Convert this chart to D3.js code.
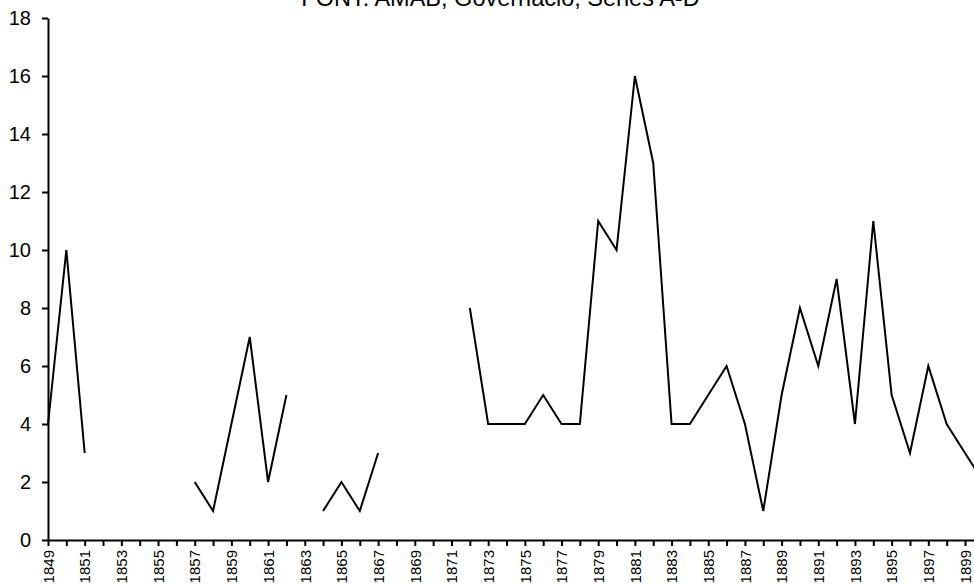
<!DOCTYPE html>
<html><head><meta charset="utf-8">
<script src="https://cdn.jsdelivr.net/npm/d3@7"></script>
<style>
html,body{margin:0;padding:0;background:#fff;overflow:hidden;}
svg{display:block;font-family:"Liberation Sans",Arial,sans-serif;}
</style></head>
<body><svg id="c" width="974" height="586"></svg>
<script>
const title = "FONT: AMAB, Governació, Sèries A-D";
const years = d3.range(1849, 1901);
const values = [4,10,3,null,null,null,null,null,2,1,4,7,2,5,null,1,2,1,3,null,null,null,null,8,4,4,4,5,4,4,11,10,16,13,4,4,5,6,4,1,5,8,6,9,4,11,5,3,6,4,3,2];
const yTicks = [0,2,4,6,8,10,12,14,16,18];
const xLabelYears = years.filter(y => (y - 1849) % 2 === 0);

const svg = d3.select("#c");
const x = d3.scaleLinear().domain([1849, 1900]).range([48, 48 + 51 * 18.34]);
const y = d3.scaleLinear().domain([0, 18]).range([540, 18]);

svg.append("text").attr("x", 500.5).attr("y", 6).attr("text-anchor", "middle")
  .attr("font-size", 23.5).attr("fill", "#000").text(title);

// y axis
const ya = svg.append("g").attr("transform", "translate(48,0)")
  .call(d3.axisLeft(y).tickValues(yTicks).tickSize(6).tickSizeOuter(0).tickPadding(11));
ya.select(".domain").attr("stroke", "#000").attr("stroke-width", 2);
ya.selectAll(".tick line").attr("stroke", "#000").attr("stroke-width", 2);
ya.selectAll(".tick text").attr("font-size", 20).attr("fill", "#000").attr("font-family", "Liberation Sans, Arial, sans-serif");

// x axis
const xa = svg.append("g").attr("transform", "translate(0,540)")
  .call(d3.axisBottom(x).tickValues(years).tickSize(6).tickSizeOuter(0)
    .tickFormat(d => xLabelYears.includes(d) ? String(d) : ""));
xa.select(".domain").attr("stroke", "#000").attr("stroke-width", 2);
xa.selectAll(".tick line").attr("stroke", "#000").attr("stroke-width", 2);
xa.selectAll(".tick text").attr("font-size", 15).attr("fill", "#000")
  .attr("font-family", "Liberation Sans, Arial, sans-serif")
  .attr("transform", "rotate(-90)").attr("text-anchor", "end")
  .attr("x", -10).attr("y", 0).attr("dy", "0.35em");

// line
const data = years.map((yr, i) => ({yr, v: values[i]}));
const line = d3.line().defined(d => d.v !== null).x(d => x(d.yr)).y(d => y(d.v));
svg.append("path").datum(data).attr("d", line).attr("fill", "none")
  .attr("stroke", "#000").attr("stroke-width", 2).attr("stroke-linejoin", "miter");
</script></body></html>
